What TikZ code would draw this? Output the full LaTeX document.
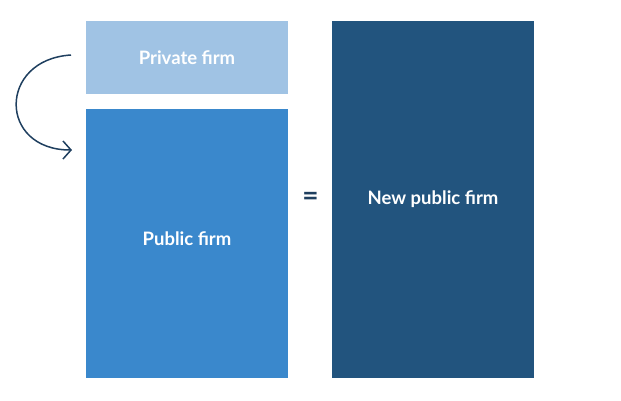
\documentclass[tikz,border=0pt]{standalone}
\usepackage{fontspec}
\setmainfont{Lato}
\usetikzlibrary{arrows.meta}
\definecolor{lightblue}{HTML}{A0C3E4}
\definecolor{midblue}{HTML}{3A88CC}
\definecolor{darkblue}{HTML}{22547E}
\definecolor{arrowblue}{HTML}{1F3F5F}
\tikzset{
  firmtext/.style={text=white, font=\bfseries\fontsize{18.5}{20}\selectfont},
  firmbox/.style={anchor=north west, inner sep=0pt, outer sep=0pt, firmtext,
    minimum width=202pt},
}
\begin{document}
\begin{tikzpicture}[x=1pt,y=-1pt]
\useasboundingbox (0,0) rectangle (621,400);

%Left column
\node [firmbox, fill=lightblue, minimum height=73pt] (private) at (86,21) {Private firm};
\node [firmbox, fill=midblue, minimum height=269pt,
  label={[firmtext, yshift=5pt]center:Public firm}] (public) at (86,109) {};

%Right column
\node [firmbox, fill=darkblue, minimum height=357pt] (newpublic) at (332,21) {New public firm};
\node [text=arrowblue, font=\bfseries\fontsize{28}{30}\selectfont] (eq) at (310.5,199) {=};

%Merge arrow
\coordinate (from) at ([xshift=-15pt,yshift=2.5pt]private.west);
\coordinate (to) at ([xshift=-14pt]public.north west |- 0,150);
\draw [arrowblue, line width=1.5pt, -{Straight Barb[length=8pt,width=18pt]}]
  (from) .. controls (-2,59.5) and (-2,150) .. (to);
\end{tikzpicture}
\end{document}
